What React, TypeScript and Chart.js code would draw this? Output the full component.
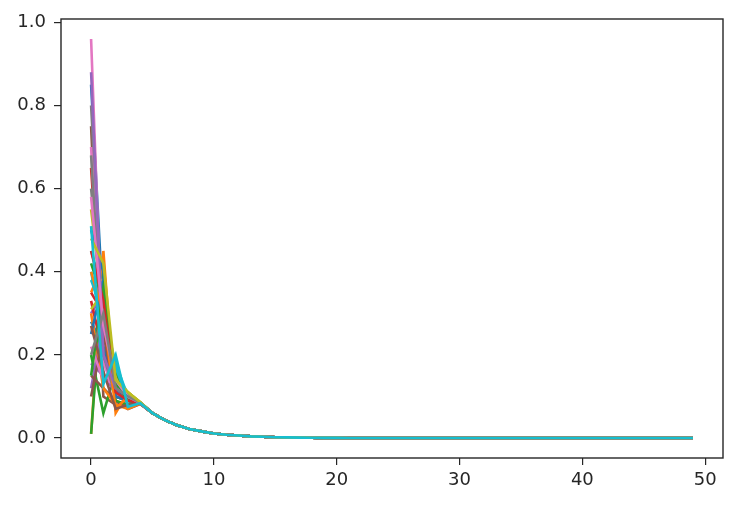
import React, { useEffect, useRef } from "react";
import { Chart, registerables } from "chart.js";

Chart.register(...registerables);

// step indices 0..49
const steps: number[] = [
  0, 1, 2, 3, 4, 5, 6, 7, 8, 9, 10, 11, 12, 13, 14, 15, 16, 17, 18, 19, 20, 21, 22, 23, 24,
  25, 26, 27, 28, 29, 30, 31, 32, 33, 34, 35, 36, 37, 38, 39, 40, 41, 42, 43, 44, 45, 46, 47, 48, 49,
];

// shared converged tail, steps 5..49
const tail: number[] = [
  0.06, 0.043, 0.031, 0.022, 0.016, 0.011, 0.008, 0.006, 0.004, 0.003, 0.002, 0.0015, 0.001, 0.0008,
  0.0005, 0.0003, 0.0002, 0.0001, 0.0001, 0, 0, 0, 0, 0, 0, 0, 0, 0, 0, 0, 0, 0, 0, 0, 0, 0, 0, 0, 0,
  0, 0, 0, 0, 0, 0,
];

// per-series first five steps (0..4)
const heads: number[][] = [
  [0.85, 0.3, 0.14, 0.1, 0.085],
  [0.01, 0.45, 0.06, 0.11, 0.082],
  [0.01, 0.4, 0.12, 0.09, 0.083],
  [0.65, 0.2, 0.12, 0.1, 0.084],
  [0.3, 0.35, 0.1, 0.09, 0.083],
  [0.75, 0.1, 0.08, 0.08, 0.084],
  [0.96, 0.15, 0.13, 0.09, 0.084],
  [0.8, 0.25, 0.11, 0.1, 0.085],
  [0.55, 0.3, 0.15, 0.11, 0.086],
  [0.45, 0.35, 0.1, 0.09, 0.083],
  [0.28, 0.22, 0.12, 0.09, 0.084],
  [0.35, 0.42, 0.07, 0.09, 0.083],
  [0.2, 0.06, 0.16, 0.1, 0.085],
  [0.35, 0.3, 0.13, 0.1, 0.084],
  [0.12, 0.28, 0.14, 0.09, 0.083],
  [0.15, 0.12, 0.09, 0.07, 0.082],
  [0.7, 0.18, 0.11, 0.08, 0.084],
  [0.6, 0.3, 0.12, 0.1, 0.085],
  [0.38, 0.38, 0.13, 0.11, 0.086],
  [0.4, 0.25, 0.17, 0.09, 0.084],
  [0.5, 0.4, 0.11, 0.1, 0.084],
  [0.3, 0.12, 0.08, 0.07, 0.083],
  [0.42, 0.33, 0.09, 0.08, 0.083],
  [0.33, 0.2, 0.12, 0.1, 0.084],
  [0.18, 0.15, 0.11, 0.09, 0.083],
  [0.1, 0.25, 0.1, 0.09, 0.084],
  [0.22, 0.14, 0.13, 0.1, 0.084],
  [0.68, 0.2, 0.1, 0.09, 0.085],
  [0.31, 0.35, 0.12, 0.11, 0.086],
  [0.38, 0.3, 0.18, 0.1, 0.084],
  [0.25, 0.38, 0.1, 0.09, 0.084],
  [0.4, 0.3, 0.07, 0.1, 0.083],
  [0.15, 0.36, 0.13, 0.09, 0.084],
  [0.45, 0.33, 0.11, 0.09, 0.084],
  [0.88, 0.2, 0.12, 0.1, 0.085],
  [0.27, 0.16, 0.07, 0.08, 0.083],
  [0.58, 0.27, 0.14, 0.1, 0.084],
  [0.2, 0.3, 0.12, 0.1, 0.085],
  [0.48, 0.42, 0.14, 0.11, 0.086],
  [0.51, 0.13, 0.2, 0.075, 0.084],
];

const palette: string[] = [
  "#1f77b4", "#ff7f0e", "#2ca02c", "#d62728", "#9467bd",
  "#8c564b", "#e377c2", "#7f7f7f", "#bcbd22", "#17becf",
];

const xTicks: number[] = [0, 10, 20, 30, 40, 50];
const yTicks: number[] = [0, 0.2, 0.4, 0.6, 0.8, 1.0];

const frame = {
  id: "frame",
  afterDraw(chart: any) {
    const { ctx, chartArea } = chart;
    ctx.save();
    ctx.strokeStyle = "#262626";
    ctx.lineWidth = 1.4;
    ctx.strokeRect(chartArea.left, chartArea.top, chartArea.right - chartArea.left, chartArea.bottom - chartArea.top);
    ctx.restore();
  },
};

export default function App() {
  const ref = useRef<HTMLCanvasElement | null>(null);
  useEffect(() => {
    if (!ref.current) return;
    const n = heads.length;
    const datasets = heads.map((h, i) => ({
      label: "s" + i,
      data: steps.map((s, k) => ({ x: s, y: k < h.length ? h[k] : tail[k - h.length] })),
      borderColor: palette[i % palette.length],
      backgroundColor: palette[i % palette.length],
      borderWidth: 2.6,
      pointRadius: 0,
      fill: false,
      tension: 0,
      order: n - i,
    }));
    const chart = new Chart(ref.current, {
      type: "line",
      data: { datasets },
      plugins: [frame],
      options: {
        animation: false,
        responsive: false,
        layout: { padding: { left: 0, right: 24, top: 19, bottom: 0 } },
        plugins: { legend: { display: false }, tooltip: { enabled: false } },
        scales: {
          x: {
            type: "linear",
            min: -2.45,
            max: 51.45,
            afterBuildTicks: (s: any) => {
              s.ticks = xTicks.map((v) => ({ value: v }));
            },
            afterFit: (s: any) => {
              s.height = 48;
            },
            grid: { display: true, drawOnChartArea: false, drawTicks: true, tickLength: 7, color: "#262626", lineWidth: 1.2 },
            border: { display: false },
            ticks: {
              padding: 5,
              color: "#262626",
              font: { family: "DejaVu Sans", size: 18 },
              maxRotation: 0,
              callback: (v: any) => String(v),
            },
          },
          y: {
            type: "linear",
            min: -0.048,
            max: 1.008,
            afterBuildTicks: (s: any) => {
              s.ticks = yTicks.map((v) => ({ value: v }));
            },
            afterFit: (s: any) => {
              s.width = 61;
            },
            grid: { display: true, drawOnChartArea: false, drawTicks: true, tickLength: 7, color: "#262626", lineWidth: 1.2 },
            border: { display: false },
            ticks: {
              padding: 8,
              color: "#262626",
              font: { family: "DejaVu Sans", size: 18 },
              callback: (v: any) => Number(v).toFixed(1),
            },
          },
        },
      },
    });
    return () => chart.destroy();
  }, []);
  return (
    <div style={{ position: "absolute", left: 0, top: 0, width: 747, height: 506, background: "#fff" }}>
      <canvas ref={ref} width={747} height={506} style={{ display: "block" }} />
    </div>
  );
}
